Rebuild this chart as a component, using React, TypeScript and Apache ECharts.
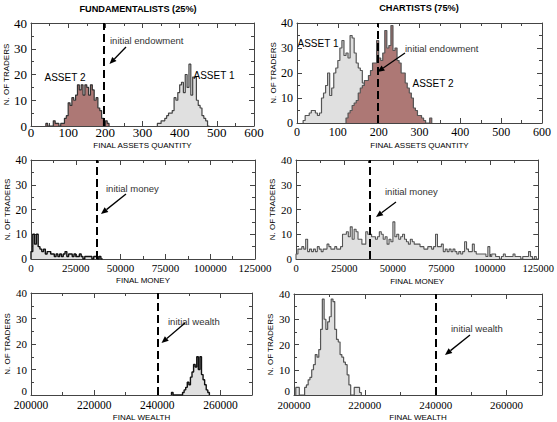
import React, { useEffect, useRef } from 'react';
import * as echarts from 'echarts';

// ---------- DATA ----------
const assetBinWidth = 5;
const fundAsset2Start = 40;
const fundAsset2Counts = [1,0,0,0,2,1,1,0,1,1,3,4,9,8,11,10,12,16,14,16,12,16,15,12,16,14,10,11,7,6,3,0,2,1];
const fundAsset1Start = 340;
const fundAsset1Counts = [1,1,2,2,3,4,5,5,6,11,10,13,16,17,13,20,15,24,12,19,19,10,8,7,4,3,2,0];

const chartAsset1Start = 15;
const chartAsset1Counts = [1,3,3,4,5,5,4,3,4,10,12,15,20,11,14,20,22,25,30,33,27,28,26,35,34,28,24,22,21,16];
const chartAsset2Start = 120;
const chartAsset2Counts = [2,4,5,7,8,9,12,14,15,17,17,19,21,24,24,33,26,25,28,37,30,31,39,29,30,25,24,20,20,16,14,12,10,6,5,3,3,2,1,0,0,2];

const moneyBinWidth = 1000;
const fundMoneyStart = 0;
const fundMoneyCounts = [3,10,6,10,5,4,3,4,2,3,3,2,2,1,2,1,2,1,2,3,1,2,2,1,2,1,1,2,1,0,1,1,1,1,0,1,1,0,1,0];
const chartMoneyStart = 0;
const chartMoneyCounts = [
  2,4,4,5,4, 8,3,4,3,4, 3,5,4,3,4, 4,6,5,4,4, 5,4,4,5,10,
  10,11,9,13,8, 12,11,8,8,6, 6,11,10,10,9, 9,8,9,11,10, 8,9,6,8,7,
  15,9,10,8,9, 10,8,7,6,8, 7,6,6,6,5, 5,4,4,5,5, 4,5,10,5,5,
  6,3,4,3,4, 3,4,3,2,3, 2,3,7,4,3, 3,6,3,2,2, 2,2,2,1,5,
  1,2,2,1,1, 0,1,2,1,1, 1,1,2,1,1, 1,0,1,1,1, 3,1,0,1,0,
];

const wealthBinWidth = 500;
const fundWealthStart = 244500;
const fundWealthCounts = [1,0,0,0,0,0,0,1,2,3,5,4,7,9,12,11,15,10,15,8,6,4,2,1];
const chartWealthStart = 200500;
const chartWealthCounts = [3,3,0,0,0,3,4,6,7,10,12,16,15,18,26,38,30,26,29,31,38,37,26,22,21,16,15,13,12,8,4,0,0,3,3,3,1];

const initialEndowment = [197, 197];
const initialMoney = [36500, 38000];
const initialWealth = 240000;

const assetTicks = { min: 0, max: 600, interval: 100 };
const moneyTicks = { min: 0, max: 125000, interval: 25000 };
const wealthTicks = { min: 200000, max: 270000, interval: 20000 };
const countTicks = { min: 0, max: 40, interval: 10 };

// ---------- STYLE ----------
const GRAY = '#e0e0e0';
const BROWN = '#ad7875';
const AXIS = '#444';

const GRIDS = [
  { left: 31, top: 23, width: 223, height: 103 },
  { left: 297, top: 23, width: 245, height: 100 },
  { left: 31, top: 160, width: 224, height: 99 },
  { left: 296, top: 160, width: 246, height: 99 },
  { left: 31, top: 293, width: 221, height: 103 },
  { left: 294, top: 294, width: 248, height: 103 },
];

function histPoints(start: number, width: number, counts: number[]) {
  const pts: number[][] = [[start, 0]];
  counts.forEach((c, i) => pts.push([start + i * width, c]));
  pts.push([start + counts.length * width, 0]);
  return pts;
}

function histSeries(panel: number, start: number, width: number, counts: number[], fill: string, stroke: string, lw: number, z = 2) {
  return {
    type: 'line',
    xAxisIndex: panel * 2,
    yAxisIndex: panel * 2,
    step: 'end',
    symbol: 'none',
    showSymbol: false,
    silent: true,
    z,
    data: histPoints(start, width, counts),
    lineStyle: { color: stroke, width: lw },
    areaStyle: { color: fill, opacity: 1 },
  };
}

function markSeries(panel: number, x: number) {
  return {
    type: 'line',
    xAxisIndex: panel * 2,
    yAxisIndex: panel * 2,
    data: [],
    silent: true,
    z: 6,
    markLine: {
      silent: true,
      z: 6,
      symbol: ['none', 'none'],
      label: { show: false },
      lineStyle: { type: [8, 4], color: '#000', width: 2 },
      data: [{ xAxis: x }],
    },
  };
}

const PANELS = [
  { ticks: assetTicks, name: 'FINAL ASSETS QUANTITY', fs: 13, ys: 13, margin: 0, gap: 15, lift: false },
  { ticks: assetTicks, name: 'FINAL ASSETS QUANTITY', fs: 12, ys: 12, margin: 3, gap: 18, lift: false },
  { ticks: moneyTicks, name: 'FINAL MONEY', fs: 11, ys: 11.5, margin: 3, gap: 17, lift: false },
  { ticks: moneyTicks, name: 'FINAL MONEY', fs: 10.5, ys: 11, margin: 4, gap: 18, lift: false },
  { ticks: wealthTicks, name: 'FINAL WEALTH', fs: 11.5, ys: 11, margin: 4, gap: 18, lift: true },
  { ticks: wealthTicks, name: 'FINAL WEALTH', fs: 11, ys: 11, margin: 4, gap: 18, lift: true },
];

function buildAxes() {
  const xAxis: any[] = [];
  const yAxis: any[] = [];
  PANELS.forEach((p, i) => {
    const common = {
      type: 'value',
      gridIndex: i,
      axisLine: { show: true, onZero: false, lineStyle: { color: AXIS, width: 1 } },
      axisTick: { show: true, inside: true, length: 5, lineStyle: { color: AXIS } },
      minorTick: { show: true, splitNumber: 2, length: 3, lineStyle: { color: AXIS } },
      splitLine: { show: false },
      minorSplitLine: { show: false },
    };
    const t = p.ticks;
    xAxis.push({
      ...common,
      position: 'bottom',
      min: t.min, max: t.max, interval: t.interval,
      axisLabel: {
        color: '#000',
        fontFamily: 'Liberation Serif',
        fontSize: p.fs,
        margin: p.margin,
        formatter: (v: number) => ((v - t.min) % t.interval === 0 ? String(v) : ''),
      },
      name: p.name,
      nameLocation: 'middle',
      nameGap: p.gap,
      nameTextStyle: { fontFamily: 'Liberation Sans', fontSize: 8, color: '#000' },
    });
    xAxis.push({
      ...common,
      position: 'top',
      min: t.min, max: t.max, interval: t.interval,
      axisLabel: { show: false },
    });
    yAxis.push({
      ...common,
      position: 'left',
      min: countTicks.min, max: countTicks.max, interval: countTicks.interval,
      axisLabel: {
        color: '#000',
        fontFamily: 'Liberation Serif',
        fontSize: p.ys,
        margin: 4,
        formatter: (v: number) => (p.lift && v === 0 ? '{z|0}' : String(v)),
        rich: {
          z: { fontFamily: 'Liberation Serif', fontSize: p.ys, color: '#000', padding: [0, 0, 8, 0] },
        },
      },
      name: 'N. OF TRADERS',
      nameLocation: 'middle',
      nameGap: 20,
      nameTextStyle: { fontFamily: 'Liberation Sans', fontSize: 8, color: '#000' },
    });
    yAxis.push({
      ...common,
      position: 'right',
      min: countTicks.min, max: countTicks.max, interval: countTicks.interval,
      axisLabel: { show: false },
    });
  });
  return { xAxis, yAxis };
}

function txt(x: number, y: number, text: string, size: number, weight: string, align: string, fill = '#000') {
  return {
    type: 'text',
    x, y,
    silent: true,
    z: 10,
    style: { text, fontSize: size, fontWeight: weight, fontFamily: 'Liberation Sans', fill, align, verticalAlign: 'middle' },
  };
}

function arrow(x1: number, y1: number, x2: number, y2: number) {
  const dx = x2 - x1, dy = y2 - y1;
  const L = Math.hypot(dx, dy);
  const ux = dx / L, uy = dy / L;
  const hl = 7, hw = 3;
  const bx = x2 - ux * hl, by = y2 - uy * hl;
  return [
    { type: 'line', silent: true, z: 10, shape: { x1, y1, x2: bx, y2: by }, style: { stroke: '#000', lineWidth: 1.3 } },
    { type: 'polygon', silent: true, z: 10, shape: { points: [[x2, y2], [bx - uy * hw, by + ux * hw], [bx + uy * hw, by - ux * hw]] }, style: { fill: '#000' } },
  ];
}

export default function App() {
  const ref = useRef<HTMLDivElement>(null);
  useEffect(() => {
    if (!ref.current) return;
    const chart = echarts.init(ref.current, undefined, { renderer: 'svg' });
    const { xAxis, yAxis } = buildAxes();
    const series = [
      histSeries(0, fundAsset2Start, assetBinWidth, fundAsset2Counts, BROWN, '#333', 1.2),
      histSeries(0, fundAsset1Start, assetBinWidth, fundAsset1Counts, GRAY, '#444', 1.2),
      markSeries(0, initialEndowment[0]),
      histSeries(1, chartAsset1Start, assetBinWidth, chartAsset1Counts, GRAY, '#555', 1.2, 2),
      histSeries(1, chartAsset2Start, assetBinWidth, chartAsset2Counts, BROWN, '#555', 1.2, 3),
      markSeries(1, initialEndowment[1]),
      histSeries(2, fundMoneyStart, moneyBinWidth, fundMoneyCounts, GRAY, '#111', 1.4),
      markSeries(2, initialMoney[0]),
      histSeries(3, chartMoneyStart, moneyBinWidth, chartMoneyCounts, GRAY, '#555', 1.1),
      markSeries(3, initialMoney[1]),
      histSeries(4, fundWealthStart, wealthBinWidth, fundWealthCounts, GRAY, '#111', 1.4),
      markSeries(4, initialWealth),
      histSeries(5, chartWealthStart, wealthBinWidth, chartWealthCounts, GRAY, '#555', 1.2),
      markSeries(5, initialWealth),
    ];
    const graphic = [
      txt(138, 9, 'FUNDAMENTALISTS (25%)', 9.2, 'bold', 'center'),
      txt(419, 8, 'CHARTISTS (75%)', 9.2, 'bold', 'center'),
      txt(110, 40, 'initial endowment', 9.5, 'normal', 'left', '#333'),
      txt(405, 48, 'initial endowment', 9.5, 'normal', 'left', '#333'),
      txt(65, 77, 'ASSET 2', 10, 'normal', 'center'),
      txt(214, 75, 'ASSET 1', 10, 'normal', 'center'),
      txt(318, 43, 'ASSET 1', 10, 'normal', 'center'),
      txt(433, 83, 'ASSET 2', 10, 'normal', 'center'),
      txt(106, 188, 'initial money', 9.5, 'normal', 'left', '#333'),
      txt(385, 191, 'initial money', 9.5, 'normal', 'left', '#333'),
      txt(168, 321, 'initial wealth', 9.5, 'normal', 'left', '#333'),
      txt(451, 328, 'initial wealth', 9.5, 'normal', 'left', '#333'),
      ...arrow(126, 47, 109.5, 64),
      ...arrow(405, 53, 377.5, 72),
      ...arrow(126, 194, 101, 214),
      ...arrow(396, 202, 376, 217),
      ...arrow(185, 323, 161.5, 343),
      ...arrow(470, 335, 445, 355),
    ];
    chart.setOption({
      animation: false,
      backgroundColor: '#fff',
      grid: GRIDS.map((g) => ({ ...g, containLabel: false })),
      xAxis,
      yAxis,
      series,
      graphic,
    });
    return () => chart.dispose();
  }, []);
  return <div ref={ref} style={{ position: 'absolute', left: 0, top: 0, width: 557, height: 422 }} />;
}
